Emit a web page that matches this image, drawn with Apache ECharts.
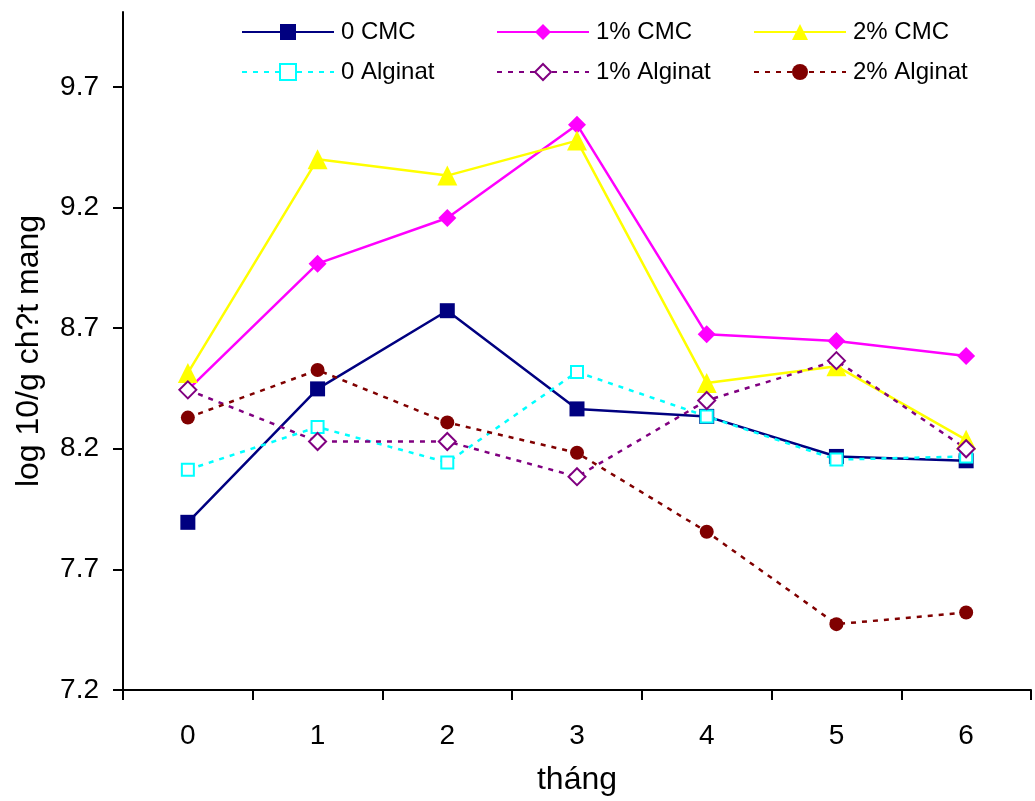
<!DOCTYPE html>
<html>
<head>
<meta charset="utf-8">
<script src="https://cdn.jsdelivr.net/npm/echarts@6/dist/echarts.min.js"></script>
<style>
  html, body { margin: 0; padding: 0; background: #fff; }
  #chart { width: 1035px; height: 801px; }
</style>
</head>
<body>
<div id="chart"></div>
<script>
var months = ['0', '1', '2', '3', '4', '5', '6'];
var yTicks = [7.2, 7.7, 8.2, 8.7, 9.2, 9.7];

var cmc0 = [7.895, 8.448, 8.772, 8.365, 8.334, 8.168, 8.150];
var cmc1 = [8.444, 8.967, 9.156, 9.543, 8.674, 8.646, 8.584];
var cmc2 = [8.514, 9.400, 9.332, 9.477, 8.472, 8.542, 8.237];
var alg0 = [8.113, 8.290, 8.143, 8.518, 8.334, 8.155, 8.168];
var alg1 = [8.444, 8.230, 8.230, 8.084, 8.400, 8.565, 8.200];
var alg2 = [8.329, 8.526, 8.309, 8.183, 7.856, 7.473, 7.521];

var font = 'Liberation Sans, Arial, sans-serif';

function solid(name, data, color, symbol, size) {
    return {
        name: name, type: 'line', data: data,
        symbol: symbol, symbolSize: size,
        lineStyle: { color: color, width: 2.5 },
        itemStyle: { color: color }
    };
}

function dotted(name, data, color, symbol, size, hollow) {
    return {
        name: name, type: 'line', data: data,
        symbol: symbol, symbolSize: size,
        lineStyle: { color: color, width: 2.5, type: [5, 6] },
        itemStyle: hollow
            ? { color: '#fff', borderColor: color, borderWidth: 2 }
            : { color: color }
    };
}

var series = [
    solid('0 CMC', cmc0, '#000080', 'rect', 15),
    solid('1% CMC', cmc1, '#FF00FF', 'diamond', 18),
    solid('2% CMC', cmc2, '#FFFF00', 'triangle', 20),
    dotted('0 Alginat', alg0, '#00FFFF', 'rect', 12, true),
    dotted('1% Alginat', alg1, '#800080', 'diamond', 17, true),
    dotted('2% Alginat', alg2, '#800000', 'circle', 14, false)
];

// legend placed as a 3x2 grid like the original
var legendPos = [[241, 20], [496, 20], [753, 20], [241, 60], [496, 60], [753, 60]];
var legends = series.map(function (s, i) {
    return {
        data: [s.name],
        left: legendPos[i][0], top: legendPos[i][1],
        padding: 0,
        itemWidth: 92, itemHeight: 20, itemGap: 0,
        textStyle: { fontFamily: font, fontSize: 24, color: '#000', padding: [0, 0, 0, 2] },
        selectedMode: false
    };
});

var chart = echarts.init(document.getElementById('chart'));
chart.setOption({
    animation: false,
    backgroundColor: '#fff',
    legend: legends,
    grid: { left: 123, right: 4, top: 12, bottom: 110 },
    xAxis: {
        type: 'category', data: months, boundaryGap: true,
        name: 'tháng', nameLocation: 'middle', nameGap: 74,
        nameTextStyle: { fontFamily: font, fontSize: 32, color: '#000' },
        axisLine: { lineStyle: { color: '#000', width: 2 } },
        axisTick: { show: true, length: 10, lineStyle: { color: '#000', width: 2 } },
        axisLabel: { fontFamily: font, fontSize: 28, color: '#000', margin: 32 }
    },
    yAxis: {
        type: 'value', min: 7.2, max: 10.01,
        name: 'log 10/g ch?t mang', nameLocation: 'middle', nameGap: 78,
        nameTextStyle: { fontFamily: font, fontSize: 32, color: '#000' },
        axisLine: { show: true, lineStyle: { color: '#000', width: 2 } },
        axisTick: { show: true, length: 10, customValues: yTicks, lineStyle: { color: '#000', width: 2 } },
        axisLabel: {
            customValues: yTicks, fontFamily: font, fontSize: 28, color: '#000', margin: 24,
            formatter: function (v) { return v.toFixed(1); }
        },
        splitLine: { show: false }
    },
    series: series
});
</script>
</body>
</html>
